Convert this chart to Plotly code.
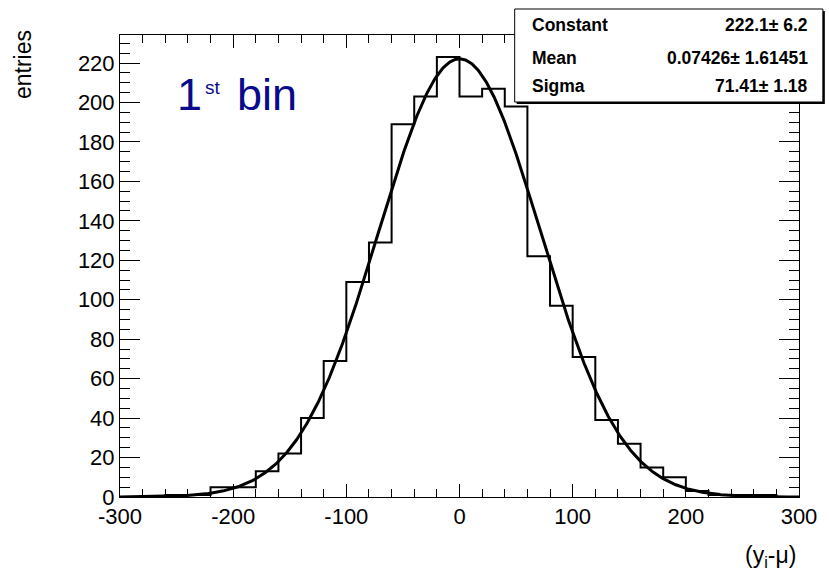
import numpy as np
import plotly.graph_objects as go

# ---- data ----
bin_centers = [-290, -270, -250, -230, -210, -190, -170, -150, -130, -110,
               -90, -70, -50, -30, -10, 10, 30, 50, 70, 90,
               110, 130, 150, 170, 190, 210, 230, 250, 270, 290]
counts = [0, 0, 1, 1, 5, 5, 13, 22, 40, 69,
          109, 129, 189, 203, 223, 203, 207, 198, 122, 97,
          71, 39, 27, 15, 10, 3, 1, 1, 1, 0]
bin_width = 20
fit_constant = 222.1
fit_mean = 0.07426
fit_sigma = 71.41
stat_labels = ["Constant", "Mean", "Sigma"]
stat_values = ["222.1\u00b1 6.2", "0.07426\u00b1 1.61451", "71.41\u00b1 1.18"]
x_ticks = [-300, -200, -100, 0, 100, 200, 300]
x_tick_text = ["-300", "-200", "-100", "0", "100", "200", "300"]
y_ticks = list(range(0, 221, 20))

FONT = "Liberation Sans, Arial, sans-serif"

# step outline
edges = [c - bin_width / 2 for c in bin_centers] + [bin_centers[-1] + bin_width / 2]
step_y = counts + [counts[-1]]
sx = [edges[0]] + edges + [edges[-1]]
sy = [0] + step_y + [0]

xf = np.linspace(-300, 300, 801)
yf = fit_constant * np.exp(-0.5 * ((xf - fit_mean) / fit_sigma) ** 2)

fig = go.Figure()
fig.add_trace(go.Scatter(x=sx, y=sy, mode="lines", line=dict(color="black", width=2, shape="hv"),
                         hoverinfo="skip", showlegend=False))
fig.add_trace(go.Scatter(x=xf, y=yf, mode="lines", line=dict(color="black", width=3),
                         showlegend=False))

W, H = 829, 579
L, R, T, B = 120, 26, 35, 82
pw, ph = W - L - R, H - T - B


def px(x):
    return (x - L) / pw


def py(y):
    return (H - B - y) / ph


fig.update_layout(
    width=W, height=H,
    margin=dict(l=L, r=R, t=T, b=B),
    paper_bgcolor="white", plot_bgcolor="white",
    font=dict(family=FONT, color="black"),
    xaxis=dict(range=[-300, 300], tickvals=x_ticks, ticktext=x_tick_text, ticks="inside", ticklen=13,
               tickwidth=1, tickcolor="black", showline=True, linecolor="black", linewidth=1,
               mirror="allticks", showgrid=False, zeroline=False, tickfont=dict(size=22, family=FONT),
               minor=dict(dtick=20, tick0=0, ticks="inside", ticklen=8, tickcolor="black", showgrid=False)),
    yaxis=dict(range=[0, 234.2], tickvals=y_ticks, ticks="inside", ticklen=20, tickwidth=1,
               tickcolor="black", showline=True, linecolor="black", linewidth=1, mirror="allticks",
               showgrid=False, zeroline=False, tickfont=dict(size=22, family=FONT),
               minor=dict(dtick=5, tick0=0, ticks="inside", ticklen=10, tickcolor="black", showgrid=False)),
)

shapes = []
# stats box shadow + box
bx0, bx1, by0, by1 = 517, 827, 9, 102
shapes.append(dict(type="rect", xref="paper", yref="paper", x0=px(bx0 + 2), x1=px(bx1 + 2),
                   y0=py(by1 + 2), y1=py(by0 + 2), fillcolor="black", line=dict(width=0)))
shapes.append(dict(type="rect", xref="paper", yref="paper", x0=px(bx0), x1=px(bx1),
                   y0=py(by1), y1=py(by0), fillcolor="white", line=dict(color="black", width=1)))
fig.update_layout(shapes=shapes)

ann = []
row_y = [25, 58, 86]
for lab, val, ry in zip(stat_labels, stat_values, row_y):
    ann.append(dict(text="<b>%s</b>" % lab, x=px(532), y=py(ry), xref="paper", yref="paper",
                    xanchor="left", yanchor="middle", showarrow=False,
                    font=dict(size=17.5, family=FONT, color="black")))
    ann.append(dict(text="<b>%s</b>" % val, x=px(814), y=py(ry), xref="paper", yref="paper",
                    xanchor="right", yanchor="middle", showarrow=False,
                    font=dict(size=17.5, family=FONT, color="black")))

navy = "#0a0a8c"
ann.append(dict(text="1", x=px(175), y=py(122), xref="paper", yref="paper", xanchor="left",
                yanchor="bottom", showarrow=False, font=dict(size=45, family=FONT, color=navy)))
ann.append(dict(text="st", x=px(203), y=py(100), xref="paper", yref="paper", xanchor="left",
                yanchor="bottom", showarrow=False, font=dict(size=19, family=FONT, color=navy)))
ann.append(dict(text="bin", x=px(236), y=py(122), xref="paper", yref="paper", xanchor="left",
                yanchor="bottom", showarrow=False, font=dict(size=45, family=FONT, color=navy)))

# axis titles
ann.append(dict(text="entries", x=px(22), y=py(28), xref="paper", yref="paper", xanchor="center",
                yanchor="top", textangle=-90, showarrow=False, font=dict(size=23, family=FONT)))
ann.append(dict(text="(y<sub>i</sub>-\u03bc)", x=px(802), y=py(556), xref="paper", yref="paper",
                xanchor="right", yanchor="middle", showarrow=False, font=dict(size=23, family=FONT)))
fig.update_layout(annotations=ann)

fig.write_html("out.html")
